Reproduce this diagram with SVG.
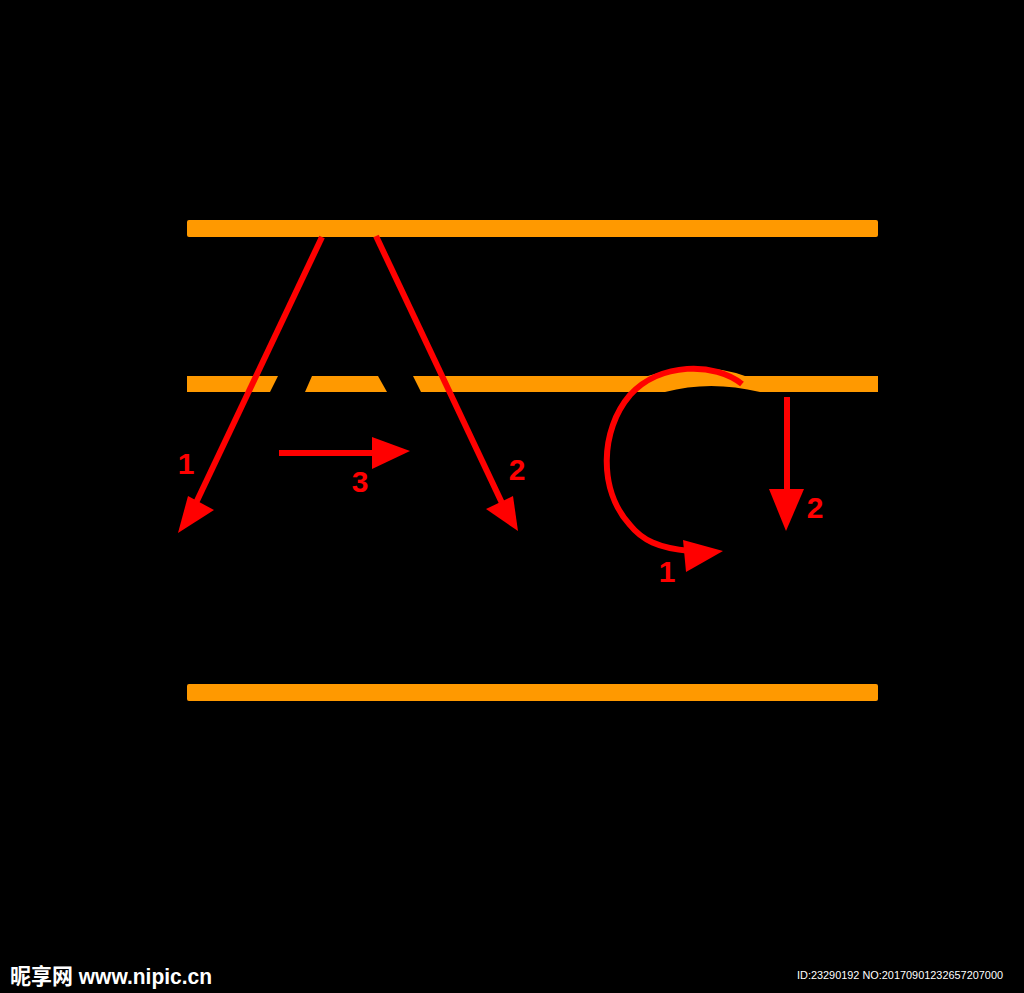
<svg xmlns="http://www.w3.org/2000/svg" width="1024" height="993" viewBox="0 0 1024 993">
<style>
.bar{fill:#ff9900}
.ln{stroke:#ff0000;stroke-width:6;fill:none}
.hd{fill:#ff0000}
.lb{fill:#ff0000;font-family:"Liberation Sans",Arial,sans-serif;font-weight:bold;font-size:30px}
.wm{fill:#ffffff;font-family:"Liberation Sans","Noto Sans CJK SC",sans-serif}
</style>
<rect width="1024" height="993" fill="#000"/>
<g id="bars">
<rect class="bar" x="187" y="220" width="691" height="17" rx="2"/>
<rect class="bar" x="187" y="684" width="691" height="17" rx="2"/>
<path class="bar" d="M187,376 H278 L270,392 H187 Z"/>
<path class="bar" d="M312,376 H378 L387,392 H305 Z"/>
<path class="bar" d="M413,376 H648 Q700,360 745,376 H878 V392 H760 Q710,380 665,392 H421 Z"/>
</g>
<g id="connectors">
<line class="ln" x1="322" y1="237" x2="195" y2="505"/>
<polygon class="hd" points="178,533 188,496 214,510"/>
<line class="ln" x1="376" y1="236" x2="502" y2="503"/>
<polygon class="hd" points="518,531 486,509 513,496"/>
<line class="ln" x1="279" y1="453" x2="378" y2="453"/>
<polygon class="hd" points="410,451 372,437 372,469"/>
<path class="ln" d="M742,384 C715,362 660,362 630,395 C600,430 598,490 630,525 C642,540 658,548 690,551"/>
<polygon class="hd" points="723,551 683,540 686,572"/>
<line class="ln" x1="787" y1="397" x2="787" y2="495"/>
<polygon class="hd" points="786,531 769,489 804,489"/>
</g>
<g id="labels">
<text class="lb" x="186" y="474" text-anchor="middle">1</text>
<text class="lb" x="360" y="492" text-anchor="middle">3</text>
<text class="lb" x="517" y="480" text-anchor="middle">2</text>
<text class="lb" x="667" y="582" text-anchor="middle">1</text>
<text class="lb" x="815" y="518" text-anchor="middle">2</text>
</g>
<g id="watermark">
<text class="wm" x="10" y="984" font-size="22" font-weight="bold" textLength="202" lengthAdjust="spacingAndGlyphs">昵享网 www.nipic.cn</text>
<text class="wm" x="797" y="979" font-size="11" textLength="206" lengthAdjust="spacingAndGlyphs">ID:23290192 NO:20170901232657207000</text>
</g>
</svg>
